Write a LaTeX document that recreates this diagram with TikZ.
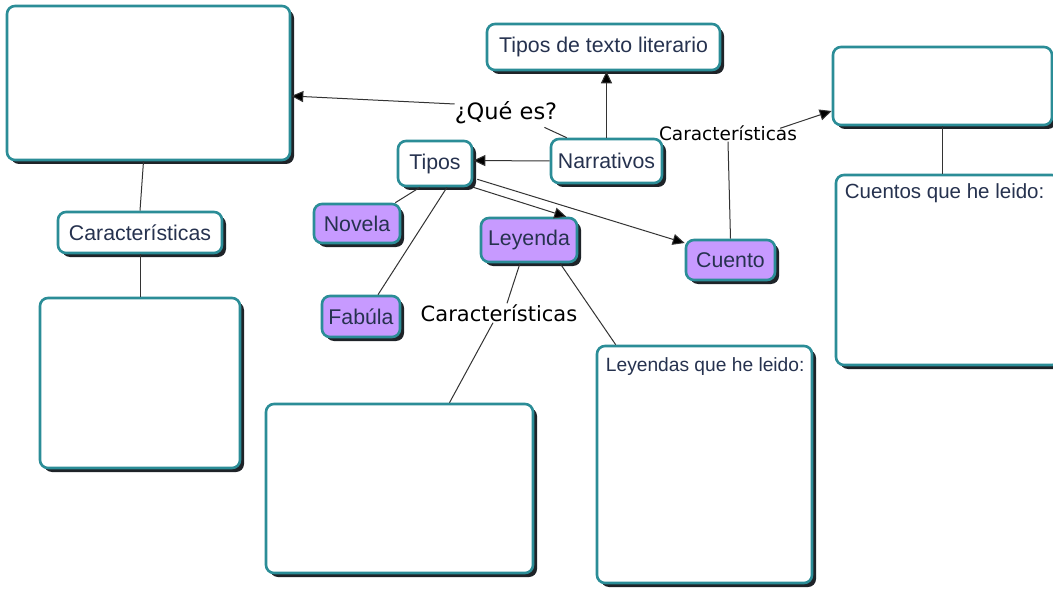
\documentclass[tikz,border=0pt]{standalone}
\usepackage{fontspec}
\setmainfont{Liberation Sans}
\newfontfamily\lblfont{DejaVu Sans}
\usetikzlibrary{shadows,calc,arrows.meta}
\definecolor{teal1}{HTML}{2B8D97}
\definecolor{navy1}{HTML}{26324F}
\definecolor{purp}{HTML}{C79AFF}
\definecolor{shad}{HTML}{1E2328}
\tikzset{
  box/.style={draw=teal1, line width=2.6pt, rounded corners=8pt, fill=white,
    text=navy1, font=\fontsize{21.3}{25}\selectfont, inner sep=0pt,
    general shadow={shadow xshift=4pt, shadow yshift=-4pt, fill=shad}},
  pbox/.style={box, fill=purp},
  lbl/.style={font=\lblfont\fontsize{21}{25}\selectfont, text=black, inner sep=1pt},
  ln/.style={draw=black!80, line width=1pt},
  arr/.style={ln, -{Triangle[length=12pt,width=11pt,fill=black]}},
  boxtext/.style={anchor=base west, text=navy1, inner sep=0pt},
}
\begin{document}
\begin{tikzpicture}[x=1pt,y=-1pt]
\clip (0,0) rectangle (1053,591);
\fill[white] (0,0) rectangle (1053,591);
% boxes
\node[box, minimum width=283, minimum height=154] (bigTL) at (148.5,83) {};
\node[box, minimum width=164, minimum height=41] (carL) at (140,232.5) {Características};
\node[box, minimum width=200, minimum height=170] (botL) at (140,383) {};
\node[box, minimum width=233, minimum height=46] (tipoLit) at (603.5,47) {Tipos de texto literario};
\node[box, minimum width=219, minimum height=78] (topR) at (942.5,86) {};
\node[box, minimum width=224, minimum height=190,
  label={[boxtext, font=\fontsize{20.5}{24}\selectfont, xshift=10pt, yshift=-25pt]north west:Cuentos que he leido:}] (cuentosBox) at (948,270) {};
\node[box, minimum width=74, minimum height=45] (tipos) at (435,163.5) {Tipos};
\node[box, minimum width=111, minimum height=44] (narr) at (606.5,161) {Narrativos};
\node[pbox, minimum width=86, minimum height=39] (novela) at (357,223.5) {Novela};
\node[pbox, minimum width=96, minimum height=44] (leyenda) at (529,240) {Leyenda};
\node[pbox, minimum width=89, minimum height=40] (cuento) at (730.5,260) {Cuento};
\node[pbox, minimum width=78, minimum height=41] (fabula) at (361,316.5) {Fabúla};
\node[box, minimum width=267, minimum height=169] (botM) at (399.5,488.5) {};
\node[box, minimum width=215, minimum height=237,
  label={[boxtext, font=\fontsize{19.2}{23}\selectfont, xshift=10pt, yshift=-27pt]north west:Leyendas que he leido:}] (leyBox) at (704.5,464.5) {};
% text labels
\node[lbl, font=\lblfont\fontsize{22.5}{26}\selectfont] (que) at (506,113) {¿Qué es?};
\node[lbl, font=\lblfont\fontsize{18.5}{22}\selectfont] (carTR) at (728,133) {Características};
\node[lbl] (carM) at (499,313) {Características};
% connectors
\draw[arr] (narr.north) -- (narr.north |- tipoLit.south);
\draw[ln] ($(narr.north west)+(17,0)$) -- ($(que.south east)+(-14,2)$);
\draw[arr] ($(que.west)+(1,-9)$) -- ($(bigTL.east)+(0,13)$);
\draw[arr] (narr.west) -- ($(tipos.east)+(0,-3)$);
\draw[ln] ($(tipos.south)+(-15,0)$) -- ($(novela.north east)+(-6,0)$);
\draw[ln] ($(tipos.south)+(12,0)$) -- ($(fabula.north)+(17,0)$);
\draw[arr] ($(tipos.south east)+(0,0)$) -- ($(leyenda.north east)+(-12,0)$);
\draw[arr] ($(tipos.south east)+(4,-8)$) -- ($(cuento.west)+(0,-17)$);
\draw[ln] (cuento.north) -- ($(carTR.south)+(0,0)$);
\draw[arr] ($(carTR.north east)+(-18,4)$) -- ($(topR.west)+(0,25)$);
\draw[ln] (topR.south) -- (topR.south |- cuentosBox.north);
\draw[ln] ($(leyenda.south)+(-9,0)$) -- ($(carM.north)+(8,0)$);
\draw[ln] ($(carM.south)+(-6,0)$) -- ($(botM.north)+(50,0)$);
\draw[ln] ($(leyenda.south)+(31,0)$) -- ($(leyBox.north west)+(20,0)$);
\draw[ln] ($(bigTL.south)+(-5,0)$) -- (carL.north);
\draw[ln] (carL.south) -- (botL.north);
\end{tikzpicture}
\end{document}
